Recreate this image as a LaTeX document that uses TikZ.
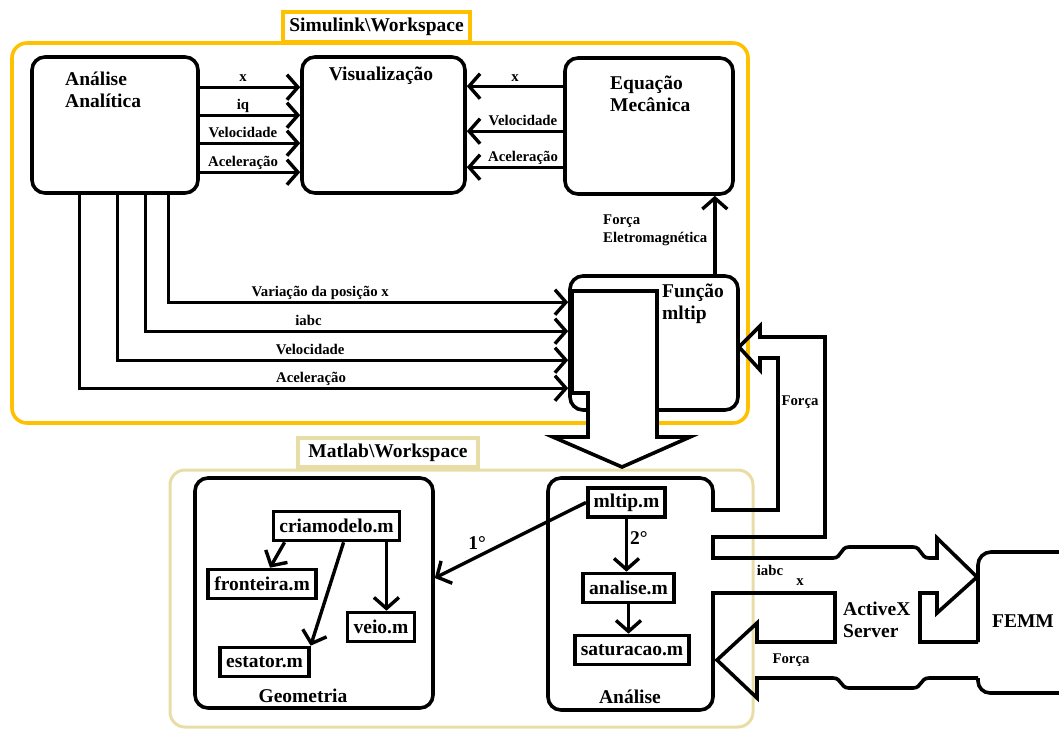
\documentclass[tikz,border=0pt]{standalone}
\usepackage{fontspec}
\setmainfont{Liberation Serif}
\usetikzlibrary{arrows.meta}

\definecolor{simyellow}{HTML}{FFC000}
\definecolor{matkhaki}{HTML}{E8DDA6}
\newcommand{\blkfont}{\fontsize{19.5}{22}\selectfont\bfseries}
\newcommand{\sigfont}{\fontsize{14.8}{18}\selectfont\bfseries}

\tikzset{
  blk/.style={draw, line width=3.6pt, rounded corners=13pt, fill=white},
  file/.style={draw, line width=3.6pt, fill=white, inner xsep=6pt, inner ysep=3pt, minimum height=29pt, font=\blkfont},
  sig/.style={line width=3.4pt, -{Straight Barb[length=11pt,width=25pt]}},
  pipe/.style={line width=3.6pt, line join=miter},
  ttl/.style={font=\blkfont, align=left, inner sep=0pt},
  lbl/.style={font=\sigfont, inner sep=0pt},
  wsp/.style={line width=3.4pt, fill=white, font=\blkfont, minimum height=30pt},
}

\begin{document}
\begin{tikzpicture}[x=1pt, y=-1pt]
    \useasboundingbox (0,0) rectangle (1059,728);

    % Simulink 外框
    \draw[simyellow, line width=3.6pt, rounded corners=15pt] (12,43) rectangle (748,423);
    \node[wsp, draw=simyellow, minimum width=187pt] (simT) at (376.5,27) {Simulink\textbackslash Workspace};

    % Matlab 外框
    \draw[matkhaki, line width=3pt, rounded corners=15pt] (170,470) rectangle (753,727);
    \node[wsp, draw=matkhaki, minimum width=180pt, minimum height=29pt] (matT) at (388,452.5) {Matlab\textbackslash Workspace};

    % 方块
    \node[blk, minimum width=166pt, minimum height=136pt] (ana) at (115,125) {};
    \node[blk, minimum width=163pt, minimum height=136pt] (vis) at (383.5,125) {};
    \node[blk, minimum width=168pt, minimum height=136pt] (eq) at (649,126) {};
    \node[blk, minimum width=168pt, minimum height=134pt] (fun) at (654,343) {};
    \node[ttl, anchor=base west] (anaT) at (65,107) {Análise\\Analítica};
    \node[ttl, anchor=base] (visT) at (381,80) {Visualização};
    \node[ttl, anchor=base west] (eqT) at (610,111) {Equação\\Mecânica};

    % 信号 -> Visualização
    \draw[sig] ([yshift=-32pt]ana.north east) -- ([yshift=-32pt]ana.north east -| vis.west)
        node[lbl, midway, anchor=base, xshift=-7pt, yshift=6pt] (l1) {x};
    \draw[sig] ([yshift=-60pt]ana.north east) -- ([yshift=-60pt]ana.north east -| vis.west)
        node[lbl, midway, anchor=base, xshift=-7pt, yshift=6pt] (l2) {iq};
    \draw[sig] ([yshift=-88pt]ana.north east) -- ([yshift=-88pt]ana.north east -| vis.west)
        node[lbl, midway, anchor=base, xshift=-7pt, yshift=6pt] (l3) {Velocidade};
    \draw[sig] ([yshift=-117pt]ana.north east) -- ([yshift=-117pt]ana.north east -| vis.west)
        node[lbl, midway, anchor=base, xshift=-7pt, yshift=6pt] (l4) {Aceleração};
    \draw[sig] ([yshift=-30pt]eq.north west) -- ([yshift=-30pt]eq.north west -| vis.east)
        node[lbl, midway, anchor=base, yshift=5pt] (r1) {x};
    \draw[sig] ([yshift=-75pt]eq.north west) -- ([yshift=-75pt]eq.north west -| vis.east)
        node[lbl, midway, anchor=base, xshift=8pt, yshift=6pt] (r2) {Velocidade};
    \draw[sig] ([yshift=-111pt]eq.north west) -- ([yshift=-111pt]eq.north west -| vis.east)
        node[lbl, midway, anchor=base, xshift=8pt, yshift=6pt] (r3) {Aceleração};

    % 信号 -> Função
    \draw[sig] ([xshift=138pt]ana.south west) |- ([yshift=-28pt]fun.north west)
        node[lbl, pos=0.69, anchor=base, yshift=6pt] (b1) {Variação da posição x};
    \draw[sig] ([xshift=115pt]ana.south west) |- ([yshift=-57pt]fun.north west)
        node[lbl, pos=0.693, anchor=base, yshift=6pt] (b2) {iabc};
    \draw[sig] ([xshift=87pt]ana.south west) |- ([yshift=-86pt]fun.north west)
        node[lbl, pos=0.714, anchor=base, yshift=6pt] (b3) {Velocidade};
    \draw[sig] ([xshift=49pt]ana.south west) |- ([yshift=-114pt]fun.north west)
        node[lbl, pos=0.737, anchor=base, yshift=6pt] (b4) {Aceleração};

    % 电磁力
    \draw[sig] ([xshift=-25pt]fun.north east) -- ([xshift=-25pt]fun.north east |- eq.south);
    \node[lbl, anchor=base west, align=left] (forEl) at (603,242) {Força\\Eletromagnética};

    % 空心箭头 Simulink -> Matlab
    \draw[pipe, fill=white] (572,291) -- (657,291) -- (657,437) -- (690,437) -- (622,467)
        -- (553,437) -- (588,437) -- (588,393) -- (572,393) -- cycle;
    \node[ttl, anchor=base west] (funT) at (662,319) {Função\\mltip};

    % Matlab 方块
    \node[blk, minimum width=238pt, minimum height=230pt] (geo) at (314,593) {};
    \node[blk, minimum width=165pt, minimum height=232pt] (anl) at (630.5,594) {};
    \fill[white] (709,512) rectangle (717,535);
    \fill[white] (709,560) rectangle (717,591);
    \node[ttl, anchor=base] (geoT) at (303,702) {Geometria};
    \node[ttl, anchor=base] (anlT) at (630,703) {Análise};

    % 文件
    \node[file] (crm) at (336.5,526) {criamodelo.m};
    \node[file] (fro) at (262,584) {fronteira.m};
    \node[file] (veio) at (381,627) {veio.m};
    \node[file] (est) at (264.5,662) {estator.m};
    \node[file] (mlt) at (626.5,502.5) {mltip.m};
    \node[file] (anm) at (628.5,588) {analise.m};
    \node[file] (sat) at (632,650) {saturacao.m};

    \draw[sig] ([xshift=13pt]crm.south west) -- ([xshift=8pt]fro.north);
    \draw[sig] ([xshift=72pt]crm.south west) -- (est.north east);
    \draw[sig] ([xshift=-15pt]crm.south east) -- ([xshift=-15pt]crm.south east |- veio.north);
    \draw[sig] (mlt.west) -- ([yshift=15pt]geo.east)
        node[ttl, pos=0.72, anchor=base, yshift=7pt] (n1) {1°};
    \draw[sig] (mlt.south) -- (mlt.south |- anm.north)
        node[ttl, pos=0.37, anchor=west, xshift=2pt] (n2) {2°};
    \draw[sig] (anm.south) -- (anm.south |- sat.north);

    % 力 -> Função
    \draw[pipe] (713,510) -- (778,510) -- (778,358) -- (760,358) -- (760,370) -- (739,347)
        -- (760,326) -- (760,337) -- (825,337) -- (825,537) -- (713,537);
    \node[lbl] (forA) at (800,402) {Força};

    % ActiveX 通道
    \draw[pipe] (713,558) -- (833,558) .. controls (842,558) and (840,547) .. (849,547) -- (913,547)
        .. controls (922,547) and (920,558) .. (929,558) -- (937,558) -- (937,538) -- (977,577)
        -- (937,613) -- (937,593) -- (920,593) -- (920,642) -- (978,642);
    \draw[pipe] (713,593) -- (835,593) -- (835,642) -- (757,642) -- (757,623) -- (717,660)
        -- (757,698) -- (757,678) -- (833,678) .. controls (842,678) and (840,688) .. (849,688)
        -- (913,688) .. controls (922,688) and (920,678) .. (929,678) -- (978,678);
    \node[lbl] (iabc) at (770,570) {iabc};
    \node[lbl] (xpos) at (800,582) {x};
    \node[lbl] (forB) at (791,660) {Força};
    \node[ttl, anchor=base west] (actT) at (843,637) {ActiveX\\Server};

    % FEMM
    \draw[pipe, rounded corners=13pt] (978,642) -- (978,552) -- (1080,552);
    \draw[pipe, rounded corners=12pt] (978,678) -- (978,693) -- (1080,693);
    \node[ttl, anchor=base] (femm) at (1023,627) {FEMM};
\end{tikzpicture}
\end{document}
